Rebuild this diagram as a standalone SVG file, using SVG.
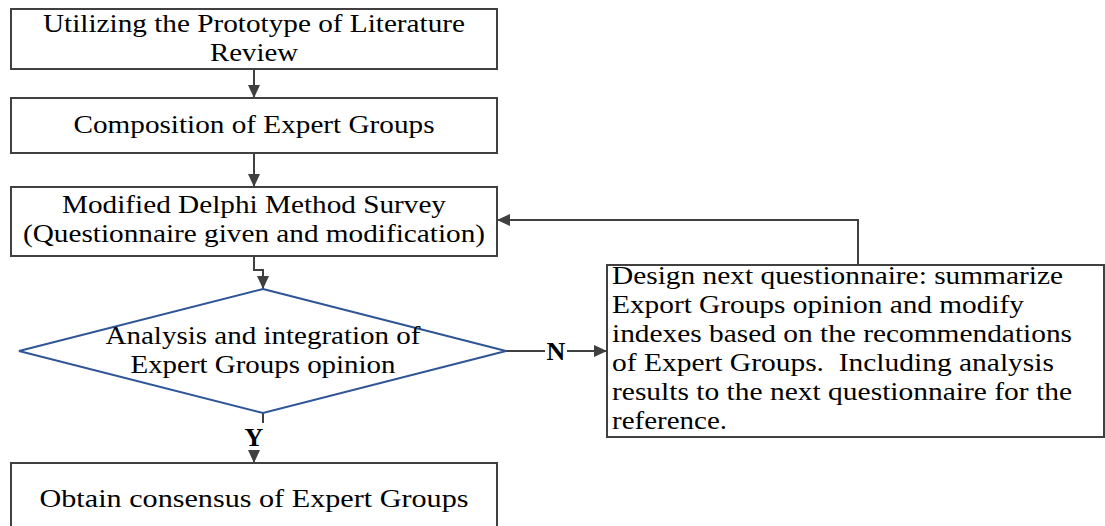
<svg xmlns="http://www.w3.org/2000/svg" width="1105" height="526" viewBox="0 0 1105 526">
<style>
.box{fill:#fff;stroke:#404040;stroke-width:2}
.dia{fill:#fff;stroke:#2f5597;stroke-width:2}
.t{font-family:"Liberation Serif","Times New Roman",serif;font-size:26px;fill:#000}
.c{text-anchor:middle}
.b{font-weight:bold;font-size:26px}
.ln{fill:none;stroke:#404040;stroke-width:2}
</style>
<defs>
<marker id="ah" markerUnits="userSpaceOnUse" markerWidth="14" markerHeight="14" viewBox="0 0 14 14" refX="13" refY="7" orient="auto">
<path d="M0,1 L13,7 L0,13 Z" fill="#404040"/>
</marker>
</defs>
<rect width="1105" height="526" fill="#fff"/>
<g id="connectors">
<path class="ln" d="M254,69 V98" marker-end="url(#ah)"/>
<path class="ln" d="M254,153 V187" marker-end="url(#ah)"/>
<path class="ln" d="M254,256 V270 H263 V289" marker-end="url(#ah)"/>
<path class="ln" d="M506,351 H545"/>
<path class="ln" d="M567,351 H607" marker-end="url(#ah)"/>
<path class="ln" d="M858,265 V220 H497" marker-end="url(#ah)"/>
<path class="ln" d="M263,413 V423"/>
<path class="ln" d="M254,451 V463" marker-end="url(#ah)"/>
<text class="t b c" x="556" y="360">N</text>
<text class="t b c" x="254" y="446">Y</text>
</g>
<g id="n1">
<rect class="box" x="11" y="9" width="486" height="60"/>
<text class="t c" x="254" y="32" textLength="422" lengthAdjust="spacingAndGlyphs">Utilizing the Prototype of Literature</text>
<text class="t c" x="254" y="61" textLength="88" lengthAdjust="spacingAndGlyphs">Review</text>
</g>
<g id="n2">
<rect class="box" x="11" y="98" width="486" height="55"/>
<text class="t c" x="254" y="133" textLength="361" lengthAdjust="spacingAndGlyphs">Composition of Expert Groups</text>
</g>
<g id="n3">
<rect class="box" x="11" y="187" width="486" height="69"/>
<text class="t c" x="254" y="213" textLength="384" lengthAdjust="spacingAndGlyphs">Modified Delphi Method Survey</text>
<text class="t c" x="254" y="242" textLength="462" lengthAdjust="spacingAndGlyphs">(Questionnaire given and modification)</text>
</g>
<g id="n4">
<polygon class="dia" points="263,289 506,351 263,413 19,351"/>
<text class="t c" x="263" y="344" textLength="315" lengthAdjust="spacingAndGlyphs">Analysis and integration of</text>
<text class="t c" x="263" y="373" textLength="265" lengthAdjust="spacingAndGlyphs">Expert Groups opinion</text>
</g>
<g id="n5">
<rect class="box" x="607" y="265" width="497" height="172"/>
<text class="t" x="612" y="284" textLength="451" lengthAdjust="spacingAndGlyphs">Design next questionnaire: summarize</text>
<text class="t" x="612" y="313" textLength="412" lengthAdjust="spacingAndGlyphs">Export Groups opinion and modify</text>
<text class="t" x="612" y="342" textLength="460" lengthAdjust="spacingAndGlyphs">indexes based on the recommendations</text>
<text class="t" x="612" y="371" textLength="442" lengthAdjust="spacingAndGlyphs" xml:space="preserve">of Expert Groups.  Including analysis</text>
<text class="t" x="612" y="400" textLength="460" lengthAdjust="spacingAndGlyphs">results to the next questionnaire for the</text>
<text class="t" x="612" y="429" textLength="115" lengthAdjust="spacingAndGlyphs">reference.</text>
</g>
<g id="n6">
<rect class="box" x="11" y="463" width="486" height="70"/>
<text class="t c" x="254" y="507" textLength="429" lengthAdjust="spacingAndGlyphs">Obtain consensus of Expert Groups</text>
</g>
</svg>
